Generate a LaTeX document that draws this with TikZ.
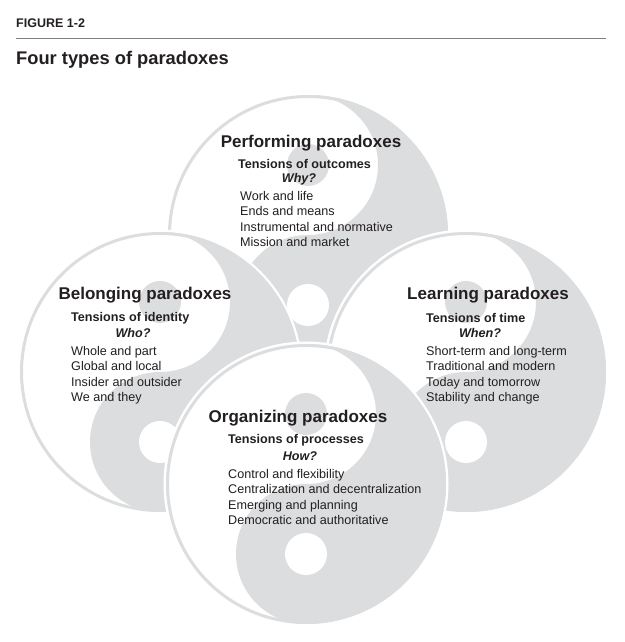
\documentclass[tikz,border=0pt]{standalone}
\usepackage{fontspec}
\setmainfont{Liberation Sans}
\definecolor{yy}{HTML}{DCDDDF}
\definecolor{ink}{HTML}{231F20}
\begin{document}
\begin{tikzpicture}[x=1pt,y=-1pt,
  ttl/.style={font=\fontsize{17}{17}\selectfont\bfseries,text=ink,inner sep=0pt},
  sub/.style={font=\fontsize{12.6}{12.6}\selectfont\bfseries,text=ink,inner sep=0pt,anchor=west},
  que/.style={font=\fontsize{12.6}{12.6}\selectfont\bfseries\itshape,text=ink,inner sep=0pt},
  itm/.style={font=\fontsize{12.6}{15.4}\selectfont,text=ink,inner sep=0pt,anchor=north west,align=left}]
\useasboundingbox (0,0) rectangle (624,642);
\fill[white] (0,0) rectangle (624,642);
\newcommand{\yinyang}[3]{%
 \begin{scope}[shift={(#1,#2)}]
  \fill[white] (0,0) circle (#3+2.5);
  \draw[yy,line width=3pt] (0,0) circle (#3-1.5);
  \fill[yy] (0,-#3) arc[start angle=-90,end angle=90,radius=#3]
    arc[start angle=90,end angle=270,radius=#3/2]
    arc[start angle=90,end angle=-90,radius=#3/2] -- cycle;
  \fill[yy] (0,-#3/2) circle (21);
  \fill[white] (0,#3/2) circle (21);
 \end{scope}}
\node[font=\fontsize{12.5}{12.5}\selectfont\bfseries,text=ink,anchor=base west,inner sep=0pt] (fig) at (16,28) {FIGURE 1-2};
\coordinate (rl) at (16,39); \coordinate (rr) at (606,39);
\draw[gray,line width=1pt] (rl) -- (rr);
\node[font=\fontsize{18.3}{18.3}\selectfont\bfseries,text=ink,anchor=base west,inner sep=0pt] (title) at (16,65) {Four types of paradoxes};
\yinyang{308}{235}{140}
\yinyang{160}{372}{140}
\yinyang{466}{372}{140}
\yinyang{306}{484}{140}
% top
\node[ttl] (pt) at (311,143) {Performing paradoxes};
\node[sub] (ps) at (238,164) {Tensions of outcomes};
\node[que] (pq) at (299,179) {Why?};
\node[itm] (pi) at (240,191) {Work and life\\Ends and means\\Instrumental and normative\\Mission and market};
% left
\node[ttl] (bt) at (145,295) {Belonging paradoxes};
\node[sub] (bs) at (71,318) {Tensions of identity};
\node[que] (bq) at (133,333) {Who?};
\node[itm] (bi) at (71,346) {Whole and part\\Global and local\\Insider and outsider\\We and they};
% right
\node[ttl] (lt) at (488,295) {Learning paradoxes};
\node[sub] (ls) at (426,318) {Tensions of time};
\node[que] (lq) at (480,333) {When?};
\node[itm] (li) at (426,346) {Short-term and long-term\\Traditional and modern\\Today and tomorrow\\Stability and change};
% bottom
\node[ttl] (ot) at (298,418) {Organizing paradoxes};
\node[sub] (os) at (228,440) {Tensions of processes};
\node[que] (oq) at (300,456) {How?};
\node[itm] (oi) at (228,469) {Control and flexibility\\Centralization and decentralization\\Emerging and planning\\Democratic and authoritative};
\end{tikzpicture}
\end{document}
